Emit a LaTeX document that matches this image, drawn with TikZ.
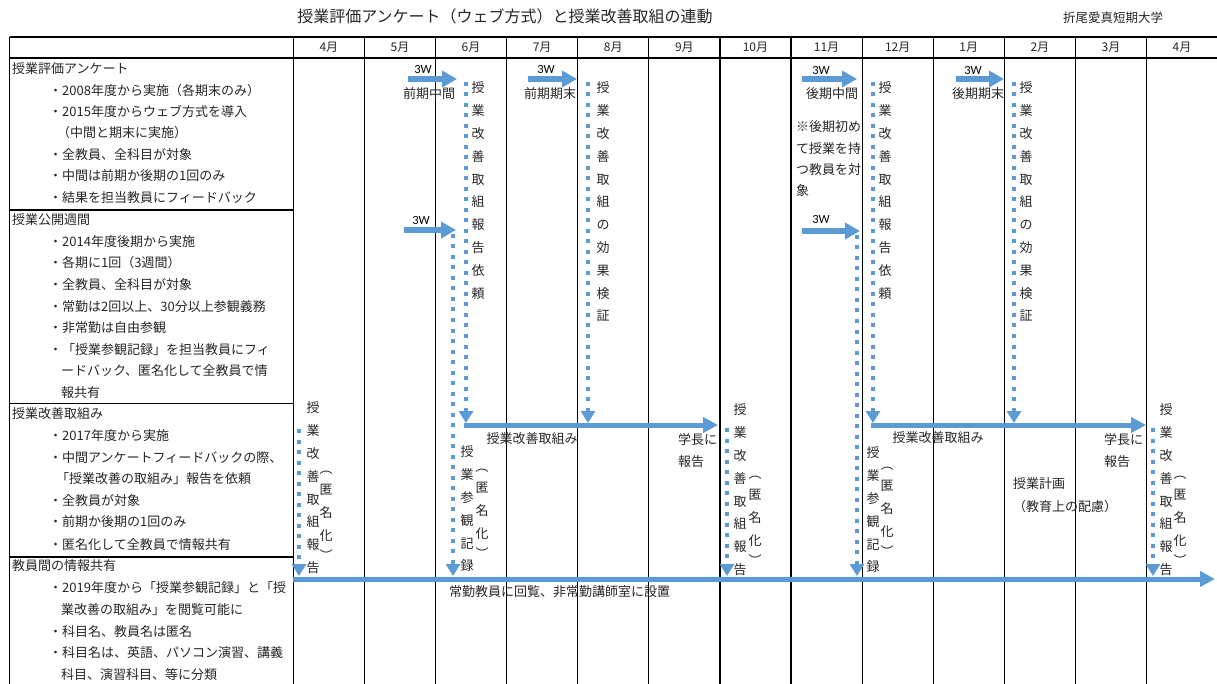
\documentclass[tikz,border=0pt]{standalone}
\usepackage{fontspec}
\setmainfont{Noto Sans CJK JP}
\newfontfamily\latinf{Carlito}
\usetikzlibrary{arrows.meta}
\definecolor{ablue}{HTML}{5B9BD5}
\definecolor{txt}{HTML}{262626}
\newcommand\vcol[4]{\foreach \c [count=\i] in {#4}{\node[vch] (#1\i) at (#2,{#3+22.8*(\i-1)}) {\c};}}
\newcommand\pcol[3]{%
  \node[vch] (#1a) at (#2,{#3-21}) {︵};
  \node[vch] (#1b) at (#2,#3) {匿};
  \node[vch] (#1c) at (#2,{#3+23}) {名};
  \node[vch] (#1d) at (#2,{#3+46}) {化};
  \node[vch] (#1e) at (#2,{#3+66}) {︶};}
\begin{document}
\begin{tikzpicture}[x=1pt,y=-1pt,
  grid/.style={line width=1.2pt, black},
  fat/.style={ablue, line width=5.5pt, -{Triangle[length=15pt,width=16pt]}},
  bar/.style={ablue, line width=5pt, -{Triangle[length=15pt,width=15pt]}},
  dots/.style={ablue, line width=4pt, dash pattern=on 4pt off 6.5pt, -{Triangle[length=12pt,width=14pt]}},
  lt/.style={font=\fontsize{13}{15}\selectfont, text=txt, inner sep=0, anchor=west, text height=11.4pt, text depth=1.6pt},
  ct/.style={lt, anchor=center},
  vch/.style={ct},
  mh/.style={font=\fontsize{12}{14}\selectfont, text=txt, inner sep=0, text height=10.5pt, text depth=1.5pt},
  tw/.style={font=\latinf\fontsize{12.5}{13}\selectfont, text=black, inner sep=0},
]
\fill[white] (0,0) rectangle (1217,684);
\useasboundingbox (0,0) rectangle (1217,684);

% title
\node[font=\fontsize{16}{18}\selectfont, text=txt, inner sep=0, text height=14pt, text depth=2pt] (title) at (505,17) {授業評価アンケート（ウェブ方式）と授業改善取組の連動};
\node[font=\fontsize{12.5}{14}\selectfont, text=txt, inner sep=0, text height=11pt, text depth=1.5pt] (univ) at (1113,18) {折尾愛真短期大学};

% grid
\draw[grid] (9.5,37) -- (1217,37);
\draw[grid] (9.5,58) -- (1217,58);
\draw[grid] (9.5,37) -- (9.5,684);
\foreach \k in {0,...,12} \draw[grid] ({293.3+71.1*\k},37) -- ({293.3+71.1*\k},684);
\draw[grid] (9.5,210) -- (293.3,210);
\draw[grid] (9.5,403.5) -- (293.3,403.5);
\draw[grid] (9.5,557) -- (293.3,557);

% month header
\foreach \m [count=\k from 0] in {4,5,6,7,8,9,10,11,12,1,2,3,4}
  \node[mh] (m\k) at ({293.3+71.1*\k+35.55},47.5) {\m 月};

% left column
\node[lt] (s1) at (12,69) {授業評価アンケート};
\node[lt] (s1a) at (49,91) {・2008年度から実施（各期末のみ）};
\node[lt] (s1b) at (49,112) {・2015年度からウェブ方式を導入};
\node[lt] (s1c) at (57,133) {（中間と期末に実施）};
\node[lt] (s1d) at (49,155) {・全教員、全科目が対象};
\node[lt] (s1e) at (49,176) {・中間は前期か後期の1回のみ};
\node[lt] (s1f) at (49,198) {・結果を担当教員にフィードバック};

\node[lt] (s2) at (12,220) {授業公開週間};
\node[lt] (s2a) at (49,242) {・2014年度後期から実施};
\node[lt] (s2b) at (49,263) {・各期に1回（3週間）};
\node[lt] (s2c) at (49,285) {・全教員、全科目が対象};
\node[lt] (s2d) at (49,307) {・常勤は2回以上、30分以上参観義務};
\node[lt] (s2e) at (49,328) {・非常勤は自由参観};
\node[lt] (s2f) at (49,350) {・「授業参観記録」を担当教員にフィ};
\node[lt] (s2g) at (61,371) {ードバック、匿名化して全教員で情};
\node[lt] (s2h) at (61,393) {報共有};

\node[lt] (s3) at (12,414) {授業改善取組み};
\node[lt] (s3a) at (49,436) {・2017年度から実施};
\node[lt] (s3b) at (49,458) {・中間アンケートフィードバックの際、};
\node[lt] (s3c) at (56,479) {「授業改善の取組み」報告を依頼};
\node[lt] (s3d) at (49,501) {・全教員が対象};
\node[lt] (s3e) at (49,522) {・前期か後期の1回のみ};
\node[lt] (s3f) at (49,545) {・匿名化して全教員で情報共有};

\node[lt] (s4) at (12,566) {教員間の情報共有};
\node[lt] (s4a) at (49,588) {・2019年度から「授業参観記録」と「授};
\node[lt] (s4b) at (61,610) {業改善の取組み」を閲覧可能に};
\node[lt] (s4c) at (49,632) {・科目名、教員名は匿名};
\node[lt] (s4d) at (49,653) {・科目名は、英語、パソコン演習、講義};
\node[lt] (s4e) at (61,675) {科目、演習科目、等に分類};

% coordinates
\coordinate (a1s) at (408,79);   \coordinate (a1e) at (457,79);
\coordinate (a2s) at (528,79);   \coordinate (a2e) at (577,79);
\coordinate (a3s) at (802,79);   \coordinate (a3e) at (857,79);
\coordinate (a4s) at (956,79);   \coordinate (a4e) at (1004,79);
\coordinate (a5s) at (404,230);  \coordinate (a5e) at (456,230);
\coordinate (a6s) at (802,231);  \coordinate (a6e) at (860,231);

\coordinate (d1s) at (466,82);   \coordinate (d1e) at (466,423);
\coordinate (d2s) at (588,82);   \coordinate (d2e) at (588,423);
\coordinate (d3s) at (873,82);   \coordinate (d3e) at (873,423);
\coordinate (d4s) at (1014,82);  \coordinate (d4e) at (1014,423);
\coordinate (d5s) at (453,234);  \coordinate (d5e) at (453,576);
\coordinate (d6s) at (857,235);  \coordinate (d6e) at (857,576);
\coordinate (d7s) at (299,429);  \coordinate (d7e) at (299,576);
\coordinate (d8s) at (727,428);  \coordinate (d8e) at (727,576);
\coordinate (d9s) at (1153,428); \coordinate (d9e) at (1153,576);

\coordinate (h1s) at (464,425);  \coordinate (h1e) at (718,425);
\coordinate (h2s) at (871,425);  \coordinate (h2e) at (1146,425);
\coordinate (bs) at (293,579);   \coordinate (be) at (1215,579);

% arrows
\draw[fat] (a1s) -- (a1e);
\draw[fat] (a2s) -- (a2e);
\draw[fat] (a3s) -- (a3e);
\draw[fat] (a4s) -- (a4e);
\draw[fat] (a5s) -- (a5e);
\draw[fat] (a6s) -- (a6e);
\foreach \d in {d1,d2,d3,d4,d5,d6,d7,d8,d9} \draw[dots] (\d s) -- (\d e);
\draw[bar] (h1s) -- (h1e);
\draw[bar] (h2s) -- (h2e);
\draw[bar] (bs) -- (be);

% 3W labels
\node[tw] (w1) at (423,69) {3W};
\node[tw] (w2) at (546,69) {3W};
\node[tw] (w3) at (821,70) {3W};
\node[tw] (w4) at (973,70) {3W};
\node[tw] (w5) at (421,220) {3W};
\node[tw] (w6) at (821,219) {3W};

\node[ct] (t1) at (429,94) {前期中間};
\node[ct] (t2) at (550,94) {前期期末};
\node[ct] (t3) at (832,94) {後期中間};
\node[ct] (t4) at (978,94) {後期期末};
\node[lt] (t5) at (796,127) {※後期初め};
\node[lt] (t6) at (796,149) {て授業を持};
\node[lt] (t7) at (796,170) {つ教員を対};
\node[lt] (t8) at (796,191) {象};

% vertical texts
\vcol{va}{478}{88}{授,業,改,善,取,組,報,告,依,頼}
\vcol{vb}{603}{88}{授,業,改,善,取,組,の,効,果,検,証}
\vcol{vc}{885}{88}{授,業,改,善,取,組,報,告,依,頼}
\vcol{vd}{1026}{88}{授,業,改,善,取,組,の,効,果,検,証}
\vcol{ve}{467}{452}{授,業,参,観,記,録}
\pcol{pe}{482}{488}
\vcol{vf}{873}{453}{授,業,参,観,記,録}
\pcol{pf}{887}{486}
\vcol{vg}{313}{408}{授,業,改,善,取,組,報,告}
\pcol{pg}{326}{490}
\vcol{vh}{740}{410}{授,業,改,善,取,組,報,告}
\pcol{ph}{755}{495}
\vcol{vi}{1166}{410}{授,業,改,善,取,組,報,告}
\pcol{pi}{1180}{495}

% horizontal texts in chart
\node[ct] (k1) at (532,439) {授業改善取組み};
\node[lt] (k2) at (678,440) {学長に};
\node[lt] (k3) at (678,462) {報告};
\node[ct] (k4) at (938,438) {授業改善取組み};
\node[lt] (k5) at (1104,440) {学長に};
\node[lt] (k6) at (1104,462) {報告};
\node[lt] (k7) at (1013,484) {授業計画};
\node[lt] (k8) at (1013,507) {（教育上の配慮）};
\node[lt] (k9) at (449,592) {常勤教員に回覧、非常勤講師室に設置};
\end{tikzpicture}
\end{document}
